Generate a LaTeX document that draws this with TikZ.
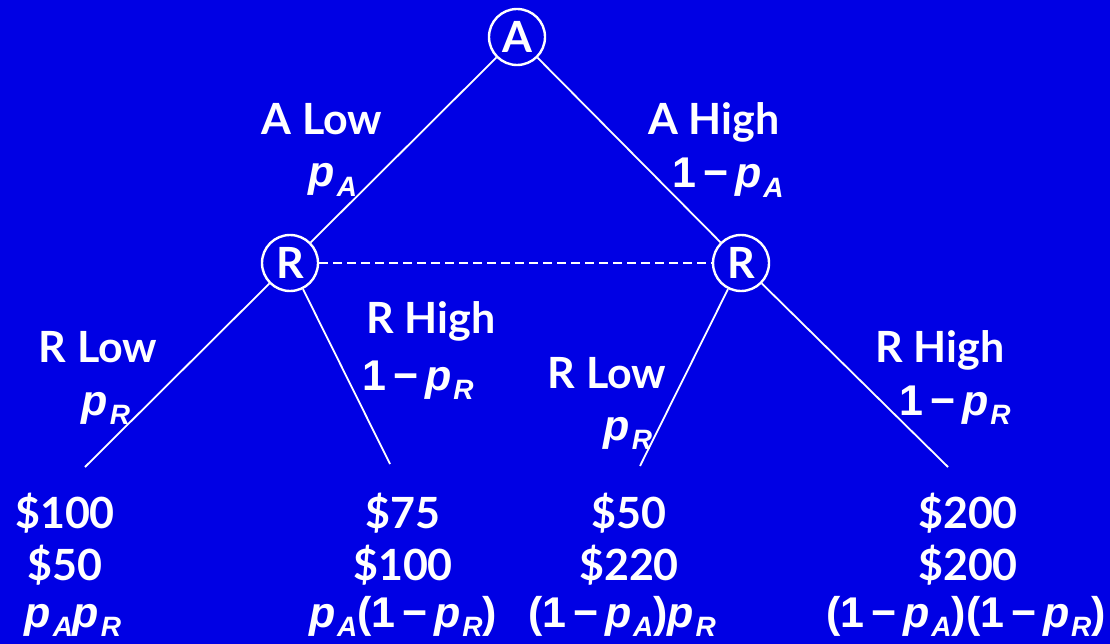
\documentclass[tikz,border=0pt]{standalone}
\usepackage{fontspec}
\setmainfont{Lato}
\newfontfamily\hv{Liberation Sans}
\definecolor{bg}{RGB}{0,0,228}
\newcommand\pv[1]{{\hv\bfseries\itshape p\kern0.04em\raisebox{-0.4ex}{\fontsize{28}{28}\selectfont #1}}}
\newcommand\om{{\hv\bfseries 1\kern0.16em\textminus\kern0.16em}}
\newcommand\pp[1]{{\hv\bfseries (}\om\pv{#1}{\hv\bfseries )}}
\begin{document}
\begin{tikzpicture}[x=1pt,y=-1pt,
  every node/.style={text=white,font=\fontsize{43}{43}\selectfont\bfseries},
  dec/.style={circle,draw=white,line width=2.4pt,minimum size=56pt,inner sep=0pt},
  lbl/.style={anchor=base},
  br/.style={draw=white,line width=1.8pt}]
\fill[bg] (0,0) rectangle (1110,644);
\useasboundingbox (0,0) rectangle (1110,644);
\node[dec] (A) at (517,37) {A};
\node[dec] (RL) at (290,263) {R};
\node[dec] (RR) at (741,263) {R};
\coordinate (L1) at (85,467);
\coordinate (L2) at (390,464);
\coordinate (L3) at (640,466);
\coordinate (L4) at (948,467);
\draw[br] (A) -- (RL);
\draw[br] (A) -- (RR);
\draw[br] (RL) -- (L1);
\draw[br] (RL) -- (L2);
\draw[br] (RR) -- (L3);
\draw[br] (RR) -- (L4);
\draw[br,dash pattern=on 9pt off 5pt] (RL) -- (RR);
% branch labels
\node[lbl] (tAL) at (322,135) {A Low};
\node[lbl] (pAL) at (333,187) {\pv{A}};
\node[lbl] (tAH) at (714,135) {A High};
\node[lbl] (pAH) at (728,188) {\om\pv{A}};
\node[lbl] (tRL1) at (98,362) {R Low};
\node[lbl] (pRL1) at (106,415) {\pv{R}};
\node[lbl] (tRH1) at (431,333) {R High};
\node[lbl] (pRH1) at (418,390) {\om\pv{R}};
\node[lbl] (tRL2) at (607,388) {R Low};
\node[lbl] (pRL2) at (628,440) {\pv{R}};
\node[lbl] (tRH2) at (940,362) {R High};
\node[lbl] (pRH2) at (955,415) {\om\pv{R}};
% payoffs
\node[lbl] (a1) at (65,528) {\$100};
\node[lbl] (a2) at (65,580) {\$50};
\node[lbl] (a3) at (73,627) {\pv{A}\pv{R}};
\node[lbl] (b1) at (403,528) {\$75};
\node[lbl] (b2) at (403,580) {\$100};
\node[lbl] (b3) at (403,627) {\pv{A}\pp{R}};
\node[lbl] (c1) at (629,528) {\$50};
\node[lbl] (c2) at (629,580) {\$220};
\node[lbl] (c3) at (622,627) {\pp{A}\pv{R}};
\node[lbl] (d1) at (968,528) {\$200};
\node[lbl] (d2) at (968,580) {\$200};
\node[lbl] (d3) at (966,627) {\pp{A}\pp{R}};
\end{tikzpicture}
\end{document}
